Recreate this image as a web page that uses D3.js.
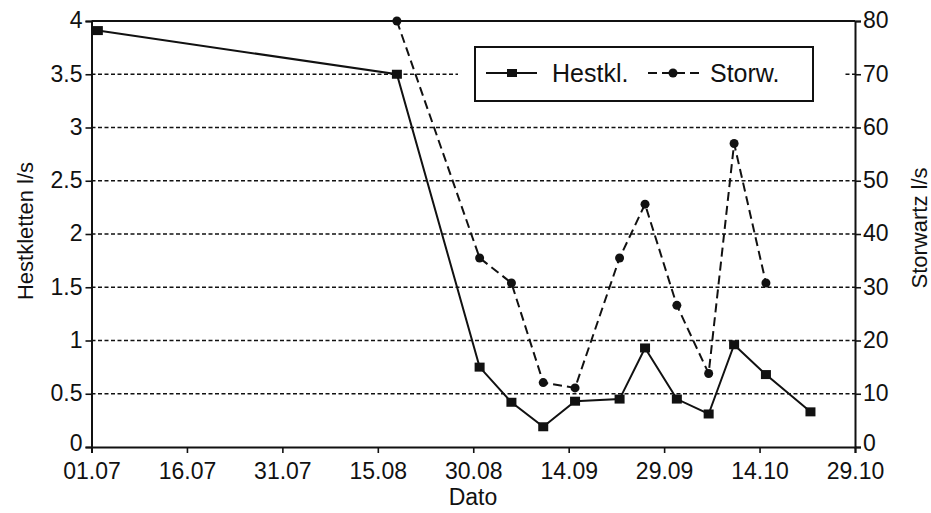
<!DOCTYPE html>
<html lang="no">
<head>
    <meta charset="UTF-8">
    <title>Hestkletten / Storwartz</title>
    <script src="https://d3js.org/d3.v7.min.js"></script>
    <style>
        body { margin: 0; background: #fff; }
        text { font-family: "Liberation Sans", Arial, sans-serif; fill: #111; }
        .grid { stroke: #111; stroke-width: 1.6; stroke-dasharray: 4 2.5; }
    </style>
</head>
<body>
    <svg width="931" height="513"></svg>
    <script>
        // Data
        const hestDates = ["02.07", "18.08", "31.08", "05.09", "10.09", "15.09", "22.09",
                           "26.09", "01.10", "06.10", "10.10", "15.10", "22.10"];
        const hestValues = [3.91, 3.5, 0.75, 0.42, 0.19, 0.43, 0.45, 0.93, 0.45, 0.31, 0.96, 0.68, 0.33];

        const storwDates = ["18.08", "31.08", "05.09", "10.09", "15.09", "22.09",
                            "26.09", "01.10", "06.10", "10.10", "15.10"];
        const storwValues = [80, 35.5, 30.8, 12.1, 11.1, 35.5, 45.6, 26.6, 13.8, 57, 30.8];

        const xTicks = ["01.07", "16.07", "31.07", "15.08", "30.08", "14.09", "29.09", "14.10", "29.10"];
        const leftTicks = [0, 0.5, 1, 1.5, 2, 2.5, 3, 3.5, 4];
        const rightTicks = [0, 10, 20, 30, 40, 50, 60, 70, 80];

        const parse = d3.timeParse("%d.%m.%Y");
        const toDate = s => parse(s + ".2001");
        const fmt = d3.timeFormat("%d.%m");

        const svg = d3.select("svg");
        const mLeft = 91.5, mRight = 855, mTop = 21, mBottom = 447;

        const x = d3.scaleTime()
            .domain([toDate("01.07"), toDate("29.10")])
            .range([mLeft, mRight]);
        const yL = d3.scaleLinear().domain([0, 4]).range([mBottom, mTop]);
        const yR = d3.scaleLinear().domain([0, 80]).range([mBottom, mTop]);

        // Horizontal dotted gridlines
        svg.selectAll(".grid")
            .data(leftTicks.filter(d => d > 0 && d < 4))
            .enter()
            .append("line")
            .attr("class", "grid")
            .attr("x1", mLeft).attr("x2", mRight)
            .attr("y1", d => yL(d)).attr("y2", d => yL(d));

        // Legend background hides grid behind it
        svg.append("rect")
            .attr("x", 458).attr("y", 40).attr("width", 385).attr("height", 66)
            .attr("fill", "#fff");

        // Axes
        const xAxis = d3.axisBottom(x)
            .tickValues(xTicks.map(toDate))
            .tickFormat(fmt)
            .tickSize(6);
        const gx = svg.append("g")
            .attr("transform", `translate(0,${mBottom})`)
            .call(xAxis);

        const gl = svg.append("g")
            .attr("transform", `translate(${mLeft},0)`)
            .call(d3.axisLeft(yL).tickValues(leftTicks).tickFormat(d3.format("~g"))
                .tickSize(6).tickPadding(3));

        const gr = svg.append("g")
            .attr("transform", `translate(${mRight},0)`)
            .call(d3.axisRight(yR).tickValues(rightTicks).tickSize(6).tickPadding(2));

        [gx, gl, gr].forEach(g => {
            g.select(".domain").attr("stroke", "#111").attr("stroke-width", 2);
            g.selectAll(".tick line").attr("stroke", "#111").attr("stroke-width", 1.6);
            g.selectAll(".tick text")
                .style("font-family", "'Liberation Sans', Arial, sans-serif")
                .style("font-size", "23px")
                .attr("fill", "#111");
        });
        gx.selectAll(".tick text").attr("dy", "0.72em").attr("y", 15);
        // zero labels sit a little higher so they clear the date labels
        gl.selectAll(".tick text").attr("dy", d => d === 0 ? "0.15em" : "0.3em");
        gr.selectAll(".tick text").attr("dy", d => d === 0 ? "0.15em" : "0.3em");

        // Top frame line
        svg.append("line")
            .attr("x1", mLeft).attr("x2", mRight)
            .attr("y1", mTop).attr("y2", mTop)
            .attr("stroke", "#111").attr("stroke-width", 2);

        // Axis titles
        svg.append("text")
            .attr("transform", "translate(33,231) rotate(-90)")
            .attr("text-anchor", "middle")
            .style("font-size", "22px")
            .text("Hestkletten l/s");
        svg.append("text")
            .attr("transform", "translate(927,228) rotate(-90)")
            .attr("text-anchor", "middle")
            .style("font-size", "22px")
            .text("Storwartz l/s");
        svg.append("text")
            .attr("x", 473).attr("y", 505)
            .attr("text-anchor", "middle")
            .style("font-size", "23px")
            .text("Dato");

        // Storwartz (dashed, right axis)
        const storw = storwDates.map((d, i) => ({ date: toDate(d), value: storwValues[i] }));
        svg.append("path")
            .datum(storw)
            .attr("fill", "none")
            .attr("stroke", "#111")
            .attr("stroke-width", 2)
            .attr("stroke-dasharray", "9 5")
            .attr("d", d3.line().x(d => x(d.date)).y(d => yR(d.value)));
        svg.selectAll(".storw")
            .data(storw)
            .enter()
            .append("circle")
            .attr("class", "storw")
            .attr("cx", d => x(d.date))
            .attr("cy", d => yR(d.value))
            .attr("r", 4.5)
            .attr("fill", "#111");

        // Hestkletten (solid, left axis)
        const hest = hestDates.map((d, i) => ({ date: toDate(d), value: hestValues[i] }));
        svg.append("path")
            .datum(hest)
            .attr("fill", "none")
            .attr("stroke", "#111")
            .attr("stroke-width", 2)
            .attr("d", d3.line().x(d => x(d.date)).y(d => yL(d.value)));
        svg.selectAll(".hest")
            .data(hest)
            .enter()
            .append("rect")
            .attr("class", "hest")
            .attr("x", d => x(d.date) - 5)
            .attr("y", d => yL(d.value) - 4.5)
            .attr("width", 10)
            .attr("height", 9)
            .attr("fill", "#111");

        // Legend
        const lg = svg.append("g");
        lg.append("rect")
            .attr("x", 475).attr("y", 47).attr("width", 338).attr("height", 54)
            .attr("fill", "none").attr("stroke", "#111").attr("stroke-width", 2);
        lg.append("line")
            .attr("x1", 486).attr("x2", 537).attr("y1", 73).attr("y2", 73)
            .attr("stroke", "#111").attr("stroke-width", 2);
        lg.append("rect")
            .attr("x", 507).attr("y", 69).attr("width", 10).attr("height", 8)
            .attr("fill", "#111");
        lg.append("text")
            .attr("x", 552).attr("y", 82)
            .style("font-size", "25px")
            .text("Hestkl.");
        lg.append("line")
            .attr("x1", 648).attr("x2", 702).attr("y1", 73).attr("y2", 73)
            .attr("stroke", "#111").attr("stroke-width", 2)
            .attr("stroke-dasharray", "9 5");
        lg.append("circle")
            .attr("cx", 673).attr("cy", 73).attr("r", 4.5)
            .attr("fill", "#111");
        lg.append("text")
            .attr("x", 710).attr("y", 82)
            .style("font-size", "25px")
            .text("Storw.");
    </script>
</body>
</html>
